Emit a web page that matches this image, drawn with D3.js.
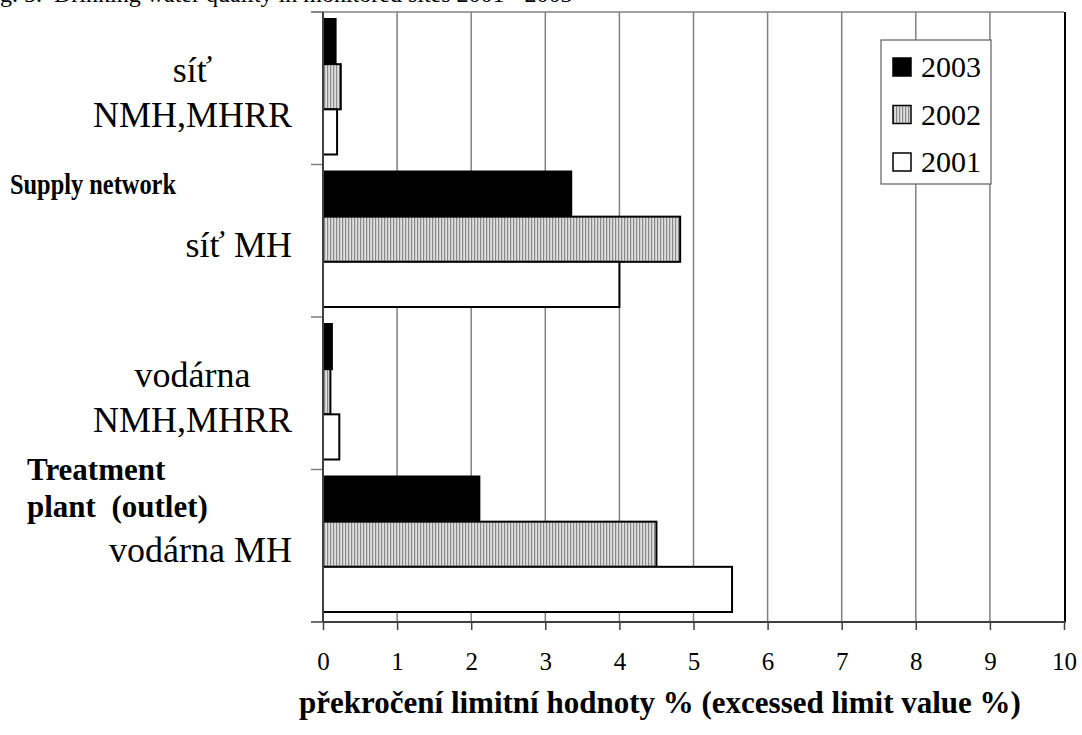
<!DOCTYPE html>
<html>
<head>
<meta charset="utf-8">
<script src="https://cdn.jsdelivr.net/npm/d3@7"></script>
<style>
  body { margin: 0; background: #fff; }
  svg text { font-family: "Liberation Serif", "Times New Roman", serif; }
</style>
</head>
<body>
<script>
// Données
const categories = ["síť NMH,MHRR", "síť MH", "vodárna NMH,MHRR", "vodárna MH"];
const categoryLines = [["síť", "NMH,MHRR"], ["síť MH"], ["vodárna", "NMH,MHRR"], ["vodárna MH"]];
const years = ["2003", "2002", "2001"];
const values2003 = [0.17, 3.35, 0.12, 2.11];
const values2002 = [0.24, 4.82, 0.10, 4.50];
const values2001 = [0.19, 4.00, 0.22, 5.52];
const xTicks = [0, 1, 2, 3, 4, 5, 6, 7, 8, 9, 10];
const groupLabels = [["Supply network"], ["Treatment", "plant  (outlet)"]];
const axisTitle = "překročení limitní hodnoty % (excessed limit value %)";
const topCaption = ["Fig. 5.", "Drinking water quality in monitored sites 2001 - 2003"];

const serif = "'Liberation Serif', 'Times New Roman', serif";

const seriesByYear = { "2003": values2003, "2002": values2002, "2001": values2001 };
const data = [];
categories.forEach(function (c, i) {
    years.forEach(function (yr) {
        data.push({ category: c, year: yr, value: seriesByYear[yr][i] });
    });
});

const svg = d3.select("body").append("svg")
    .attr("width", 1082)
    .attr("height", 735)
    .attr("font-family", serif);

// motif rayé pour 2002
const defs = svg.append("defs");
const pat = defs.append("pattern")
    .attr("id", "stripes")
    .attr("patternUnits", "userSpaceOnUse")
    .attr("width", 3)
    .attr("height", 10);
pat.append("rect").attr("width", 3).attr("height", 10).attr("fill", "#dedede");
pat.append("rect").attr("width", 1.2).attr("height", 10).attr("fill", "#8a8a8a");

const fills = { "2003": "#000", "2002": "url(#stripes)", "2001": "#fff" };

// échelles
const x = d3.scaleLinear().domain([0, 10]).range([323, 1064]);
const y = d3.scaleBand().domain(categories).range([12, 622]);
const yInner = d3.scaleBand().domain(years).range([7, y.bandwidth() - 10]);

// légende du haut (coupée comme sur l'original)
const cap = svg.append("g").style("font-size", "24px");
cap.append("text").attr("x", -20).attr("y", 2).style("font-family", serif).text(topCaption[0]);
cap.append("text").attr("x", 54).attr("y", 2).style("font-family", serif).text(topCaption[1]);

// grille verticale
svg.append("g")
    .selectAll("line")
    .data(xTicks.slice(1, -1))
    .enter()
    .append("line")
    .attr("x1", d => x(d)).attr("x2", d => x(d))
    .attr("y1", 12).attr("y2", 622)
    .attr("stroke", "#808080")
    .attr("stroke-width", 1.5);

// bord haut et bord droit
svg.append("line")
    .attr("x1", 311).attr("x2", x(10))
    .attr("y1", 12).attr("y2", 12)
    .attr("stroke", "#808080").attr("stroke-width", 1.5);
svg.append("line")
    .attr("x1", x(10) + 1).attr("x2", x(10) + 1)
    .attr("y1", 12).attr("y2", 622)
    .attr("stroke", "#000").attr("stroke-width", 2);

// barres
svg.append("g")
    .selectAll("rect")
    .data(data)
    .enter()
    .append("rect")
    .attr("x", x(0))
    .attr("y", d => y(d.category) + yInner(d.year))
    .attr("width", d => x(d.value) - x(0))
    .attr("height", yInner.bandwidth())
    .attr("fill", d => fills[d.year])
    .attr("stroke", "#000")
    .attr("stroke-width", 2);

// axe X
const xAxis = svg.append("g")
    .attr("transform", "translate(0,622)")
    .call(d3.axisBottom(x).tickValues(xTicks).tickSize(8).tickFormat(d3.format("d")));
xAxis.attr("font-family", serif).attr("font-size", 25);
xAxis.select(".domain").remove();
xAxis.selectAll(".tick line").attr("stroke", "#404040").attr("stroke-width", 1.5);
xAxis.selectAll(".tick text")
    .attr("y", 48).attr("dy", 0)
    .attr("fill", "#000")
    .style("font-size", "25px")
    .style("font-family", serif);
svg.append("line")
    .attr("x1", 311).attr("x2", x(10) + 2)
    .attr("y1", 622).attr("y2", 622)
    .attr("stroke", "#404040").attr("stroke-width", 2);

// axe Y (traits entre catégories)
const bounds = categories.map(c => y(c)).concat([y.range()[1]]);
svg.append("g")
    .selectAll("line")
    .data(bounds)
    .enter()
    .append("line")
    .attr("x1", 311).attr("x2", x(0))
    .attr("y1", d => d).attr("y2", d => d)
    .attr("stroke", "#808080").attr("stroke-width", 1.5);
svg.append("line")
    .attr("x1", x(0)).attr("x2", x(0))
    .attr("y1", 12).attr("y2", 622)
    .attr("stroke", "#404040").attr("stroke-width", 2);

// étiquettes des catégories (centrées entre elles, bloc aligné à droite)
const labelRight = 292;
categories.forEach(function (c, i) {
    const lines = categoryLines[i];
    const cy = y(c) + y.bandwidth() / 2;
    const g = svg.append("g").style("font-size", "36px");
    const texts = lines.map(function (l, j) {
        return g.append("text")
            .attr("y", cy + 16 + (j - (lines.length - 1) / 2) * 45)
            .attr("text-anchor", "middle")
            .style("font-family", serif)
            .text(l);
    });
    const maxW = d3.max(texts, t => t.node().getComputedTextLength());
    texts.forEach(t => t.attr("x", labelRight - maxW / 2));
});

// étiquettes de groupe en gras
const groupPos = [{ x: 10, y: 194, size: 29, len: 166 }, { x: 27, y: 480, size: 31, len: null }];
groupLabels.forEach(function (lines, i) {
    lines.forEach(function (l, j) {
        const t = svg.append("text")
            .attr("x", groupPos[i].x)
            .attr("y", groupPos[i].y + j * 37)
            .style("font-size", groupPos[i].size + "px")
            .style("font-weight", "bold")
            .style("font-family", serif)
            .style("white-space", "pre")
            .text(l);
        if (groupPos[i].len) {
            t.attr("textLength", groupPos[i].len).attr("lengthAdjust", "spacingAndGlyphs");
        }
    });
});

// légende
const legend = svg.append("g").attr("transform", "translate(881,40)");
legend.append("rect")
    .attr("width", 110).attr("height", 144)
    .attr("fill", "#fff")
    .attr("stroke", "#606060").attr("stroke-width", 1.2);
years.forEach(function (yr, i) {
    const cy = 27 + i * 47.5;
    legend.append("rect")
        .attr("x", 12).attr("y", cy - 9)
        .attr("width", 18).attr("height", 18)
        .attr("fill", fills[yr])
        .attr("stroke", "#000").attr("stroke-width", 1.5);
    legend.append("text")
        .attr("x", 40).attr("y", cy + 10)
        .style("font-size", "30px")
        .style("font-family", serif)
        .text(yr);
});

// titre de l'axe
svg.append("text")
    .attr("x", 660).attr("y", 713)
    .attr("text-anchor", "middle")
    .style("font-size", "31px")
    .style("font-weight", "bold")
    .style("font-family", serif)
    .text(axisTitle);
</script>
</body>
</html>
